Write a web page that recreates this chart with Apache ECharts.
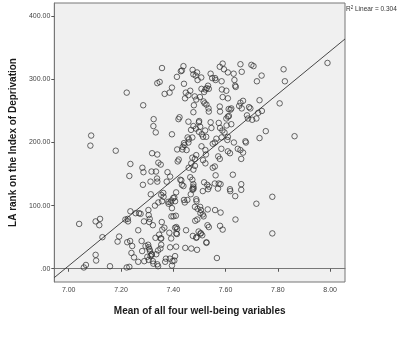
<!DOCTYPE html>
<html><head><meta charset="utf-8">
<script src="https://cdn.jsdelivr.net/npm/echarts@6/dist/echarts.min.js"></script>
<style>html,body{margin:0;padding:0;background:#fff}#c{width:400px;height:337px}</style>
</head><body><div id="c"></div>
<script>
// Mean of all four well-being variables (x) and LA rank on the Index of Deprivation (y)
const meanWellbeing = [
7.357,7.439,7.433,7.429,7.474,7.491,7.477,7.486,7.414,7.507,7.543,7.549,7.560,7.562,7.589,7.578,7.594,7.609,7.631,7.657,7.662,7.699,7.707,7.822,7.990,7.738,7.720,7.827,7.348,7.339,7.441,7.493,7.585,7.634,7.637,7.639,7.533,7.528,7.523,
7.222,7.395,7.367,7.386,7.448,7.465,7.458,7.445,7.482,7.488,7.502,7.518,7.536,7.508,7.516,7.520,7.527,7.535,7.586,7.603,7.589,7.609,7.657,7.667,7.652,7.662,7.578,7.612,7.619,7.622,7.285,7.807,7.730,7.690,7.695,7.479,7.477,7.536,7.579,7.613,
7.325,7.324,7.333,7.424,7.420,7.458,7.477,7.468,7.487,7.499,7.498,7.503,7.498,7.509,7.514,7.543,7.546,7.574,7.579,7.588,7.604,7.596,7.622,7.603,7.609,7.682,7.686,7.702,7.718,7.739,7.725,7.754,7.730,7.395,7.460,7.455,7.565,7.585,7.609,7.607,7.522,7.526,7.443,7.436,7.441,
7.180,7.086,7.083,7.236,7.319,7.339,7.415,7.417,7.421,7.458,7.473,7.451,7.435,7.469,7.473,7.488,7.483,7.508,7.523,7.525,7.551,7.559,7.584,7.572,7.578,7.609,7.617,7.632,7.647,7.657,7.667,7.660,7.676,7.678,7.864,7.523,7.514,7.343,7.352,7.282,7.286,7.459,7.477,7.483,7.559,7.551,
7.232,7.284,7.313,7.338,7.339,7.334,7.317,7.378,7.388,7.375,7.431,7.427,7.465,7.473,7.477,7.478,7.474,7.513,7.518,7.530,7.537,7.533,7.562,7.559,7.571,7.581,7.574,7.628,7.660,7.660,7.617,7.618,7.637,7.354,7.362,7.363,7.314,7.411,7.400,7.433,7.439,7.477,7.393,7.407,7.390,7.404,7.381,7.454,7.444,7.488,7.489,7.467,7.474,7.718,7.779,
7.040,7.103,7.120,7.117,7.129,7.193,7.187,7.217,7.226,7.227,7.236,7.256,7.269,7.275,7.305,7.306,7.310,7.308,7.322,7.266,7.288,7.330,7.343,7.357,7.382,7.395,7.393,7.401,7.410,7.407,7.412,7.415,7.411,7.414,7.358,7.366,7.385,7.392,7.356,7.346,7.354,7.449,7.441,7.483,7.493,7.503,7.506,7.484,7.492,7.513,7.504,7.532,7.560,7.581,7.516,7.497,7.531,7.506,7.489,7.536,7.527,7.579,7.589,7.638,7.779,
7.058,7.066,7.105,7.103,7.158,7.222,7.232,7.224,7.235,7.243,7.240,7.250,7.266,7.281,7.279,7.294,7.304,7.306,7.309,7.311,7.318,7.313,7.317,7.289,7.301,7.306,7.322,7.324,7.339,7.342,7.335,7.342,7.351,7.354,7.332,7.352,7.372,7.369,7.387,7.397,7.395,7.404,7.407,7.388,7.411,7.446,7.469,7.475,7.488,7.504,7.511,7.491,7.527,7.567
];
const laRank = [
318,321,314,313,315,311,308,306,304,303,309,302,302,299,325,320,316,311,309,324,312,323,321,316,326,306,297,297,296,294,293,299,297,299,290,288,290,286,284,
279,287,277,279,279,282,275,270,273,268,272,280,285,285,265,262,260,254,284,282,272,270,263,266,258,254,257,253,252,254,259,262,267,256,254,259,248,249,249,242,
237,226,216,240,237,233,226,220,222,234,232,225,217,213,209,232,223,231,223,219,227,216,229,238,241,243,238,236,238,250,247,218,207,213,205,208,206,208,209,204,219,209,196,193,199,
187,211,195,166,183,181,189,170,173,200,208,188,189,167,176,180,174,194,188,181,198,200,190,178,174,186,183,200,190,188,184,174,202,200,210,167,172,168,165,160,153,160,157,163,162,160,
147,133,138,143,138,154,154,153,146,138,140,141,145,141,134,127,127,123,137,133,130,126,148,135,127,134,135,149,134,125,126,123,115,117,120,114,118,121,112,133,131,130,108,107,105,113,106,109,105,110,107,118,125,103,114,
71,75,79,69,50,51,43,78,79,75,91,88,88,87,93,85,79,74,69,61,75,100,105,107,103,96,83,83,84,65,66,63,56,55,62,65,57,48,74,54,48,61,109,98,95,98,93,76,78,86,88,94,93,89,83,59,69,56,50,66,42,68,62,78,56,
2,6,13,22,4,2,3,42,44,36,25,18,11,28,44,36,38,34,31,28,23,20,22,12,19,14,12,8,7,4,23,29,32,38,49,48,16,11,16,12,5,13,20,34,35,33,32,52,49,56,53,30,41,17
];
// Linear fit line endpoints, R² = 0.304
const fitX = [6.945, 8.057];
const fitY = [-14, 364];
const xTicks = [7.00, 7.20, 7.40, 7.60, 7.80, 8.00];
const xTickLabels = ['7.00', '7.20', '7.40', '7.60', '7.80', '8.00'];
const yTicks = [0, 100, 200, 300, 400];
const yTickLabels = ['.00', '100.00', '200.00', '300.00', '400.00'];
const xTitle = 'Mean of all four well-being variables';
const yTitle = 'LA rank on the Index of Deprivation';
const r2Text = '0.304';

const points = meanWellbeing.map((x, i) => [x, laRank[i]]);
const fitData = fitX.map((x, i) => [x, fitY[i]]);

const chart = echarts.init(document.getElementById('c'), null, {renderer: 'canvas'});
const axisColor = '#777777';
const ff = 'Liberation Sans, Arial, sans-serif';
chart.setOption({
  animation: false,
  backgroundColor: '#ffffff',
  textStyle: {fontFamily: ff},
  grid: {left: 51, right: 55, top: 3, bottom: 55, show: true, backgroundColor: '#f0f0f0', borderColor: axisColor, borderWidth: 1},
  xAxis: {
    type: 'value', min: 6.945, max: 8.057,
    name: xTitle, nameLocation: 'middle', nameGap: 24,
    nameTextStyle: {fontSize: 10, fontWeight: 'bold', color: '#1a1a1a', fontFamily: ff},
    splitLine: {show: false},
    axisLine: {show: true, lineStyle: {color: axisColor, width: 1}},
    axisTick: {show: true, length: 3, lineStyle: {color: '#555'}, customValues: xTicks},
    axisLabel: {fontSize: 7, color: '#444', margin: 5, customValues: xTicks,
      formatter: v => xTickLabels[xTicks.findIndex(t => Math.abs(t - v) < 1e-6)] ?? ''}
  },
  yAxis: {
    type: 'value', min: -21, max: 421,
    name: yTitle, nameLocation: 'middle', nameGap: 35, nameRotate: 90,
    nameTextStyle: {fontSize: 10, fontWeight: 'bold', color: '#1a1a1a', fontFamily: ff},
    splitLine: {show: false},
    axisLine: {show: true, lineStyle: {color: axisColor, width: 1}},
    axisTick: {show: true, length: 3, lineStyle: {color: '#555'}, customValues: yTicks},
    axisLabel: {fontSize: 7, color: '#444', margin: 4, customValues: yTicks,
      formatter: v => yTickLabels[yTicks.findIndex(t => Math.abs(t - v) < 1e-6)] ?? ''}
  },
  graphic: [{
    type: 'text', left: 346, top: 5,
    style: {
      text: '{r|R}{s|2}{r| Linear = ' + r2Text + '}',
      rich: {r: {fontSize: 6.5, fill: '#333', fontFamily: ff},
             s: {fontSize: 4.5, fill: '#333', verticalAlign: 'top', padding: [0,0,3,0], fontFamily: ff}}
    }
  }],
  series: [
    {type: 'scatter', data: points, symbol: 'circle', symbolSize: 5.5,
     itemStyle: {color: 'rgba(0,0,0,0)', borderColor: '#2e2e2e', borderWidth: 0.9}, z: 3},
    {type: 'line', data: fitData, symbol: 'none', lineStyle: {color: '#333', width: 0.9}, z: 2}
  ]
});
</script></body></html>
